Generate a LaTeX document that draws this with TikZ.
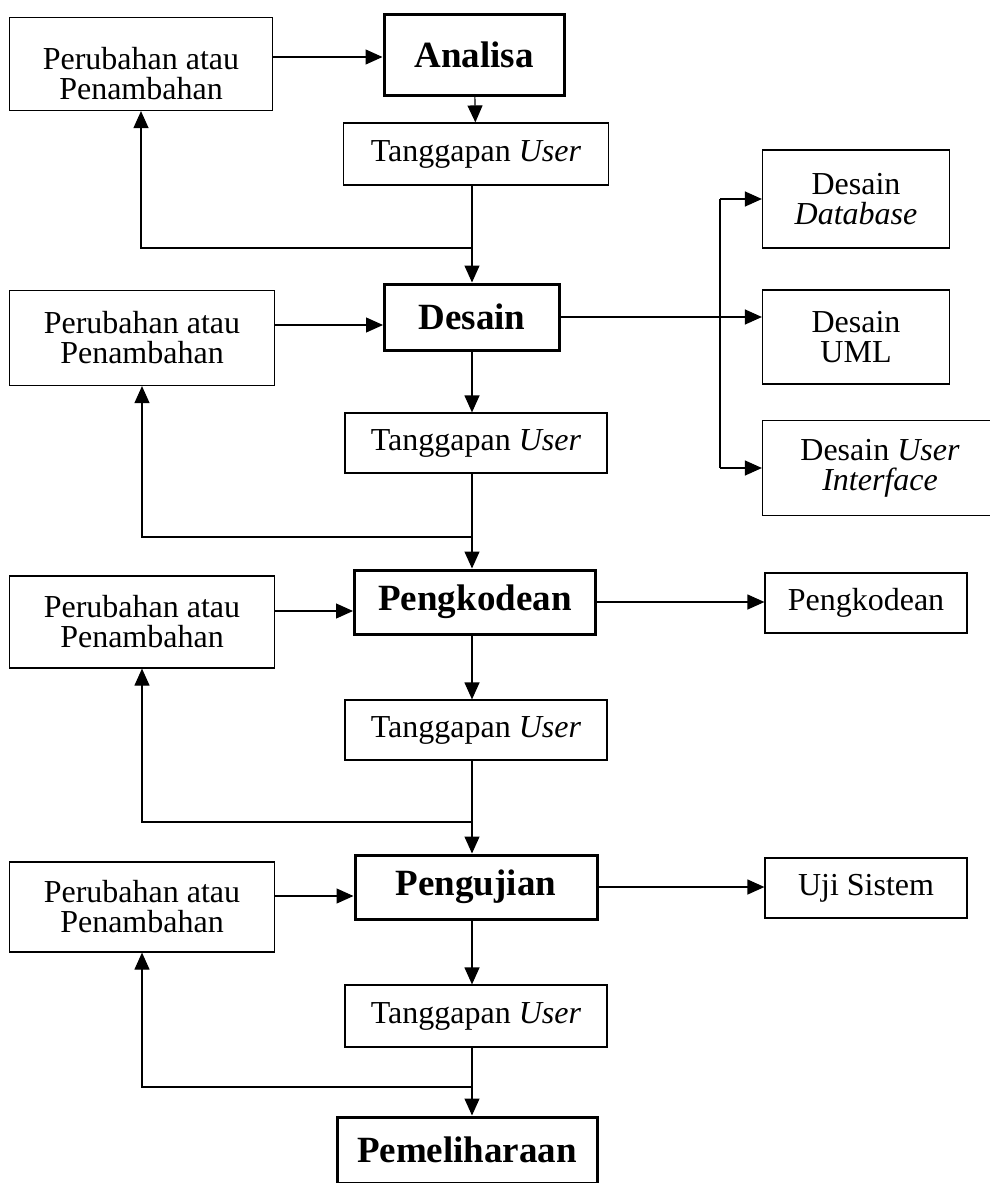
\documentclass[tikz,border=0pt]{standalone}
\usepackage{fontspec}
\setmainfont{Liberation Serif}
\usepackage{tikz}
\usetikzlibrary{arrows.meta,positioning}

\begin{document}
\begin{tikzpicture}[x=1pt,y=-1pt,
        box/.style = {draw, line width=1.2pt, align=center, inner sep=0pt,
                font=\fontsize{32}{30}\selectfont},
        phase/.style = {draw, line width=3pt, align=center, inner sep=0pt,
                font=\fontsize{37}{37}\selectfont\bfseries},
        arr/.style = {line width=1.2pt, -{Triangle[length=17pt,width=15pt]}},
        ln/.style = {line width=1.2pt},
        ]
        \useasboundingbox (0,0) rectangle (990,1183);

        % main column
        \node[phase, minimum width=180, minimum height=81](analisa) at (474,55) {Analisa};
        \node[box, minimum width=265, minimum height=62](tg1) at (476,154) {Tanggapan \textit{User}};
        \node[phase, minimum width=175, minimum height=66](desain) at (472,317) {Desain};
        \node[box, minimum width=262, minimum height=60](tg2) at (476,443) {Tanggapan \textit{User}};
        \node[phase, minimum width=241, minimum height=64](kode) at (475,602) {Pengkodean};
        \node[box, minimum width=262, minimum height=60](tg3) at (476,730) {Tanggapan \textit{User}};
        \node[phase, minimum width=242, minimum height=64](uji) at (476,887) {Pengujian};
        \node[box, minimum width=262, minimum height=62](tg4) at (476,1016) {Tanggapan \textit{User}};
        \node[phase, minimum width=260, minimum height=66](pelihara) at (467,1150) {Pemeliharaan};

        % left column
        \node[box, minimum width=263, minimum height=93](ubah1) at (141,64) {\rule{0pt}{42pt}Perubahan atau\\Penambahan};
        \node[box, minimum width=265, minimum height=95](ubah2) at (142,338) {Perubahan atau\\Penambahan};
        \node[box, minimum width=265, minimum height=92](ubah3) at (142,622) {Perubahan atau\\Penambahan};
        \node[box, minimum width=265, minimum height=90](ubah4) at (142,907) {Perubahan atau\\Penambahan};

        % right column
        \node[box, minimum width=187, minimum height=98](dbase) at (856,199) {Desain\\\textit{Database}};
        \node[box, minimum width=187, minimum height=94](duml) at (856,337) {Desain\\UML};
        \node[box, minimum width=235, minimum height=95](dui) at (880,468) {Desain \textit{User}\\\textit{Interface}};
        \node[box, minimum width=202, minimum height=60](kode2) at (866,603) {Pengkodean};
        \node[box, minimum width=202, minimum height=60](ujisis) at (866,888) {Uji Sistem};

        % junctions
        \coordinate (j1) at (472,248);
        \coordinate (j2) at (472,537);
        \coordinate (j3) at (472,822);
        \coordinate (j4) at (472,1087);
        \coordinate (bx) at (720,317);

        % arrows down the column
        \draw[arr] (analisa) -- (tg1);
        \draw[arr] (tg1.south -| j1) -- (desain.north -| j1);
        \draw[arr] (desain.south -| j1) -- (tg2.north -| j1);
        \draw[arr] (tg2.south -| j2) -- (kode.north -| j2);
        \draw[arr] (kode.south -| j2) -- (tg3.north -| j2);
        \draw[arr] (tg3.south -| j3) -- (uji.north -| j3);
        \draw[arr] (uji.south -| j3) -- (tg4.north -| j3);
        \draw[arr] (tg4.south -| j4) -- (pelihara.north -| j4);

        % feedback loops
        \draw[arr] (j1) -| (ubah1.south);
        \draw[arr] (j2) -| (ubah2.south);
        \draw[arr] (j3) -| (ubah3.south);
        \draw[arr] (j4) -| (ubah4.south);

        \draw[arr] (ubah1.east |- 0,57) -- (analisa.west |- 0,57);
        \draw[arr] (ubah2.east |- 0,325) -- (desain.west |- 0,325);
        \draw[arr] (ubah3.east |- 0,611) -- (kode.west |- 0,611);
        \draw[arr] (ubah4.east |- 0,896) -- (uji.west |- 0,896);

        % outputs
        \draw[arr] (desain.east) -- (duml.west |- desain.east);
        \draw[ln] (bx |- dbase.west) -- (bx |- dui.west);
        \draw[arr] (bx |- dbase.west) -- (dbase.west);
        \draw[arr] (bx |- dui.west) -- (dui.west);
        \draw[arr] (kode.east) -- (kode2.west |- kode.east);
        \draw[arr] (uji.east) -- (ujisis.west |- uji.east);
\end{tikzpicture}
\end{document}
